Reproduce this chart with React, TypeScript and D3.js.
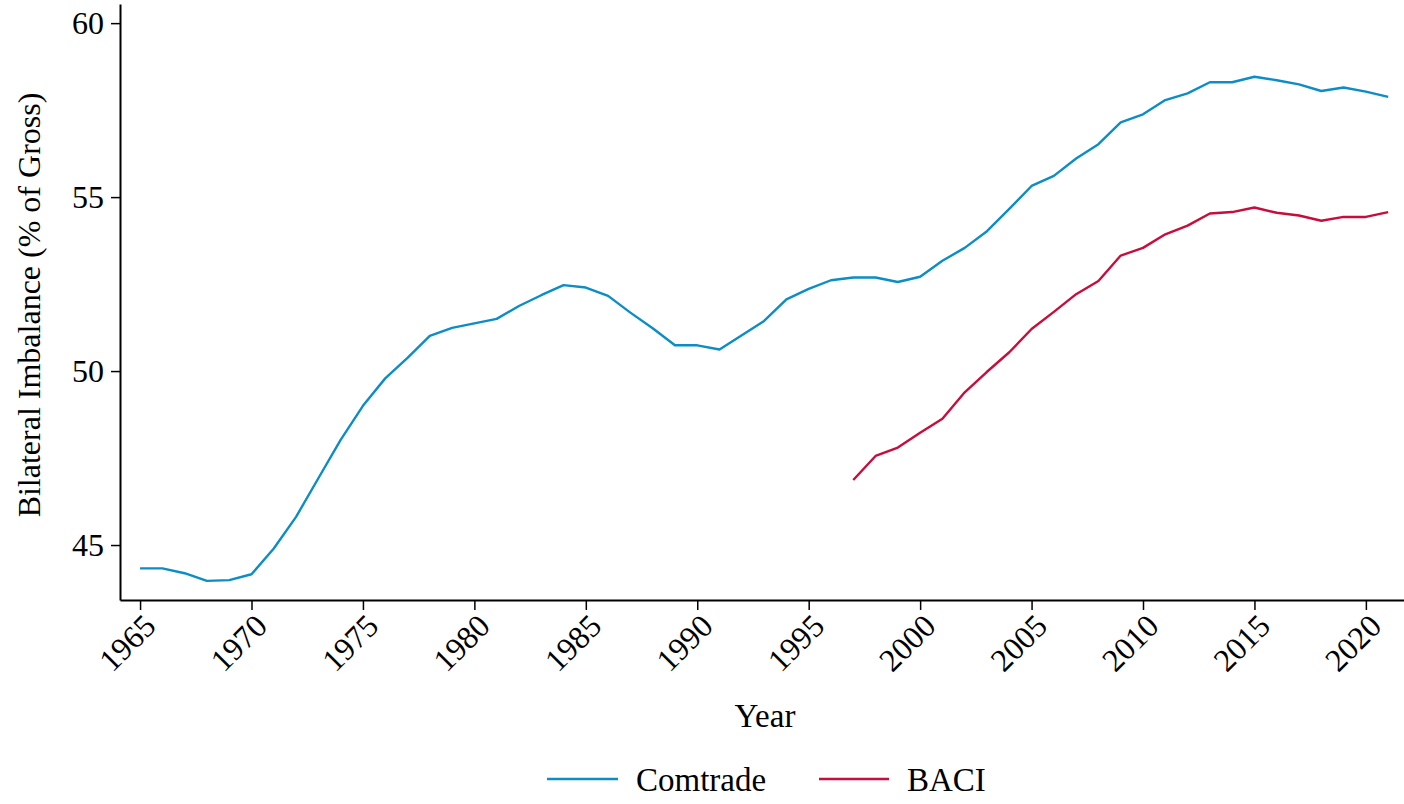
import React, { useEffect, useRef } from "react";
import * as d3 from "d3";

const comtradeYears: number[] = d3.range(1965, 2022);
const comtradeValues: number[] = [
    44.33, 44.33, 44.19, 43.97, 43.99, 44.16, 44.9, 45.81, 46.92, 48.02,
    49.0, 49.79, 50.38, 51.01, 51.24, 51.37, 51.5, 51.87, 52.18, 52.47,
    52.4, 52.16, 51.68, 51.23, 50.74, 50.74, 50.62, 51.03, 51.44, 52.06,
    52.36, 52.61, 52.69, 52.69, 52.56, 52.71, 53.17, 53.54, 54.02, 54.66,
    55.32, 55.61, 56.11, 56.52, 57.15, 57.38, 57.79, 57.98, 58.3, 58.3,
    58.46, 58.36, 58.24, 58.05, 58.15, 58.03, 57.88,
];

const baciYears: number[] = d3.range(1997, 2022);
const baciValues: number[] = [
    46.87, 47.56, 47.8, 48.23, 48.63, 49.39, 49.98, 50.54, 51.21, 51.7,
    52.21, 52.59, 53.32, 53.54, 53.93, 54.18, 54.53, 54.57, 54.7, 54.55,
    54.47, 54.32, 54.43, 54.43, 54.57,
];

const xTicks: number[] = [1965, 1970, 1975, 1980, 1985, 1990, 1995, 2000, 2005, 2010, 2015, 2020];
const yTicks: number[] = [45, 50, 55, 60];

const seriesNames = ["Comtrade", "BACI"];
const seriesColors = ["#0c8dc4", "#c80c3b"];

const width = 1404;
const height = 804;
const margins = { top: 4, right: -2, bottom: 204, left: 120 };
const font = "'Liberation Serif', 'DejaVu Serif', serif";
const fontSize = 32;

const App: React.FC = () => {
    const svgRef = useRef<SVGSVGElement | null>(null);

    useEffect(() => {
        if (!svgRef.current) return;
        document.body.style.margin = "0";

        const svg = d3.select(svgRef.current);
        svg.selectAll("*").remove();

        const x = d3
            .scaleLinear()
            .domain([1964.1, 2021.8])
            .range([margins.left, width - margins.right]);

        const y = d3
            .scaleLinear()
            .domain([43.42, 60.55])
            .range([height - margins.bottom, margins.top]);

        // x axis, labels turned 45 degrees
        svg.append("g")
            .attr("transform", `translate(0,${height - margins.bottom})`)
            .call(
                d3
                    .axisBottom(x)
                    .tickValues(xTicks)
                    .tickFormat(d3.format("d"))
                    .tickSize(10)
                    .tickSizeOuter(0)
            )
            .call((g) => g.select(".domain").attr("stroke-width", 2))
            .call((g) => g.selectAll(".tick line").attr("stroke-width", 1.5))
            .call((g) =>
                g
                    .selectAll(".tick text")
                    .attr("font-family", font)
                    .attr("font-size", fontSize)
                    .attr("fill", "#000")
                    .attr("text-anchor", "end")
                    .attr("x", 0)
                    .attr("y", 0)
                    .attr("dy", 0)
                    .attr("transform", "translate(17,28) rotate(-45)")
            );

        // y axis
        svg.append("g")
            .attr("transform", `translate(${margins.left},0)`)
            .call(
                d3
                    .axisLeft(y)
                    .tickValues(yTicks)
                    .tickSize(9)
                    .tickPadding(7)
                    .tickSizeOuter(0)
            )
            .call((g) => g.select(".domain").attr("stroke-width", 2))
            .call((g) => g.selectAll(".tick line").attr("stroke-width", 1.5))
            .call((g) =>
                g
                    .selectAll(".tick text")
                    .attr("font-family", font)
                    .attr("font-size", fontSize)
                    .attr("fill", "#000")
            );

        // axis titles
        svg.append("text")
            .attr("x", 765)
            .attr("y", 727)
            .attr("text-anchor", "middle")
            .attr("font-family", font)
            .attr("font-size", fontSize + 1)
            .text("Year");

        svg.append("text")
            .attr("transform", "translate(40,305) rotate(-90)")
            .attr("text-anchor", "middle")
            .attr("font-family", font)
            .attr("font-size", fontSize)
            .text("Bilateral Imbalance (% of Gross)");

        // lines
        const line = d3
            .line<[number, number]>()
            .x((d) => x(d[0]))
            .y((d) => y(d[1]));

        const series: [number, number][][] = [
            comtradeYears.map((yr, i) => [yr, comtradeValues[i]]),
            baciYears.map((yr, i) => [yr, baciValues[i]]),
        ];

        series.forEach((s, i) => {
            svg.append("path")
                .datum(s)
                .attr("fill", "none")
                .attr("stroke", seriesColors[i])
                .attr("stroke-width", 2.4)
                .attr("stroke-linejoin", "round")
                .attr("d", line);
        });

        // legend
        const legendItems = [
            { x1: 547, x2: 618, tx: 636 },
            { x1: 819, x2: 889, tx: 907 },
        ];
        const legend = svg.append("g").attr("transform", "translate(0,779)");
        legendItems.forEach((item, i) => {
            legend
                .append("line")
                .attr("x1", item.x1)
                .attr("x2", item.x2)
                .attr("stroke", seriesColors[i])
                .attr("stroke-width", 2.4);
            legend
                .append("text")
                .attr("x", item.tx)
                .attr("dy", "0.35em")
                .attr("font-family", font)
                .attr("font-size", fontSize + 1)
                .text(seriesNames[i]);
        });
    }, []);

    return <svg ref={svgRef} width={width} height={height} style={{ display: "block", background: "#fff" }}></svg>;
};

export default App;
